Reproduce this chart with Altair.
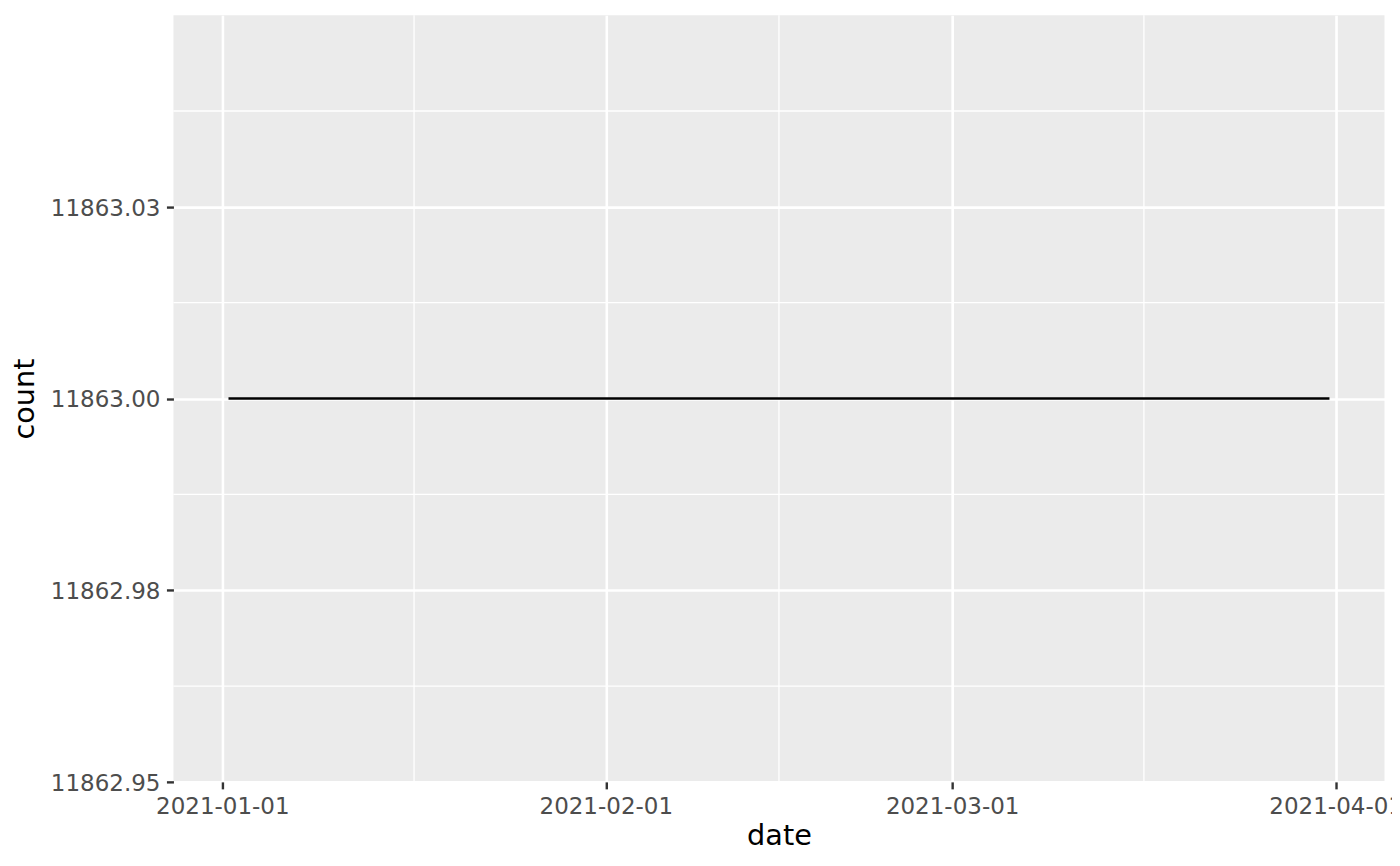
import altair as alt
import pandas as pd

# ---- data ----
start_date = "2021-01-01T12:00:00Z"
end_date = "2021-03-31T12:00:00Z"
count_value = 11863.0

x_tick_dates = ["2021-01-01", "2021-02-01", "2021-03-01", "2021-04-01"]
x_minor_dates = ["2021-01-16T12:00:00Z", "2021-02-15T00:00:00Z", "2021-03-16T12:00:00Z"]
x_domain = ["2020-12-28T01:12:00Z", "2021-04-04T22:48:00Z"]

y_ticks = [11862.95, 11862.975, 11863.0, 11863.025]
y_labels = ["11862.95", "11862.98", "11863.00", "11863.03"]
y_minor = [11862.9625, 11862.9875, 11863.0125, 11863.0375]
y_domain = [11862.95, 11863.05]


def ms(s):
    t = pd.Timestamp(s)
    if t.tzinfo is None:
        t = t.tz_localize("UTC")
    return int(t.value // 1_000_000)


dates = pd.date_range(start_date, end_date, freq="D")
df = pd.DataFrame({
    "date": [int(d.value // 1_000_000) for d in dates],
    "count": [count_value] * len(dates),
})
df_xminor = pd.DataFrame({"date": [ms(d) for d in x_minor_dates]})
df_yminor = pd.DataFrame({"count": y_minor})

FONT = "DejaVu Sans"
W, H = 1211.5, 767

xscale = alt.Scale(type="utc", domain=[ms(d) for d in x_domain], nice=False)
yscale = alt.Scale(domain=y_domain, nice=False, zero=False)

y_expr = " : ".join(
    f"abs(datum.value - {v}) < 1e-6 ? '{l}'" for v, l in zip(y_ticks, y_labels)
) + " : ''"

xaxis = alt.Axis(
    values=[ms(d) for d in x_tick_dates],
    labelExpr="utcFormat(datum.value, '%Y-%m-%d')",
    title="date",
    grid=True, gridColor="white", gridWidth=2.6,
    domain=False,
    ticks=True, tickSize=7, tickWidth=2.4, tickColor="#333333",
    labelFont=FONT, labelFontSize=23, labelColor="#4D4D4D",
    labelPadding=6.5, labelFlush=False, labelOverlap=False, labelBound=False,
    titleFont=FONT, titleFontSize=28.75, titleFontWeight="normal", titleColor="black",
    titleX=W / 2, titleY=63, titleBaseline="alphabetic", titleAlign="center",
)
yaxis = alt.Axis(
    values=y_ticks,
    labelExpr=y_expr,
    title="count",
    grid=True, gridColor="white", gridWidth=2.6,
    domain=False,
    ticks=True, tickSize=7, tickWidth=2.4, tickColor="#333333",
    labelFont=FONT, labelFontSize=23, labelColor="#4D4D4D",
    labelPadding=6.5, labelOffset=1.3, labelFlush=False, labelOverlap=False, labelBound=False,
    titleFont=FONT, titleFontSize=28.75, titleFontWeight="normal", titleColor="black",
    titleX=-140, titleY=H / 2, titleAngle=-90, titleBaseline="alphabetic", titleAlign="center",
)

xminor = alt.Chart(df_xminor).mark_rule(color="white", strokeWidth=1.3).encode(
    x=alt.X("date:T", scale=xscale, axis=xaxis)
)
yminor = alt.Chart(df_yminor).mark_rule(color="white", strokeWidth=1.3).encode(
    y=alt.Y("count:Q", scale=yscale, axis=yaxis)
)
line = alt.Chart(df).mark_line(color="black", strokeWidth=2.6).encode(
    x=alt.X("date:T", scale=xscale, axis=xaxis),
    y=alt.Y("count:Q", scale=yscale, axis=yaxis),
)

chart = alt.layer(xminor, yminor, line).properties(
    width=W, height=H,
    autosize=alt.AutoSizeParams(type="none"),
    padding={"left": 165.5, "top": 7, "right": 7.5, "bottom": 76},
    background="white",
).configure_view(fill="#EBEBEB", stroke=None)

chart.save("out.html", embed_options={"renderer": "svg", "actions": False})
